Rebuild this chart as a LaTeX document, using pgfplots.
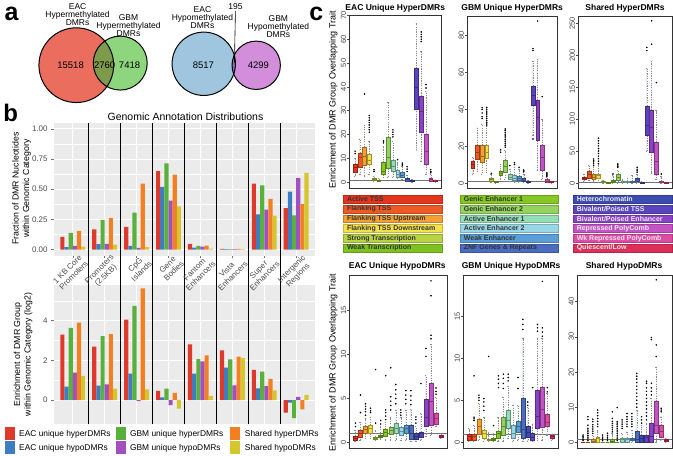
\documentclass[border=0pt]{standalone}
\usepackage{fontspec}
\setmainfont{Liberation Sans}
\usepackage{pgfplots}
\usepackage{pgfplotstable}
\pgfplotsset{compat=1.18}
\usepgfplotslibrary{statistics}

\newcommand{\fs}[1]{\fontsize{#1}{#1}\selectfont}

% panel b colours
\definecolor{cR}{HTML}{DD3A2B}
\definecolor{cB}{HTML}{3D7DC0}
\definecolor{cG}{HTML}{5AB03C}
\definecolor{cP}{HTML}{A24FC0}
\definecolor{cO}{HTML}{F47F22}
\definecolor{cY}{HTML}{D6C62E}
\definecolor{bgg}{HTML}{EBEBEB}
% chromatin states
\definecolor{s1}{HTML}{E5351F}
\definecolor{s2}{HTML}{EE5A26}
\definecolor{s3}{HTML}{F5A030}
\definecolor{s4}{HTML}{F4E14A}
\definecolor{s5}{HTML}{B9D443}
\definecolor{s6}{HTML}{7EC21F}
\definecolor{s7}{HTML}{86C823}
\definecolor{s8}{HTML}{93D35E}
\definecolor{s9}{HTML}{93DFB5}
\definecolor{s10}{HTML}{98D8E6}
\definecolor{s11}{HTML}{5A9FD8}
\definecolor{s12}{HTML}{4C6CC2}
\definecolor{s13}{HTML}{3C4CB0}
\definecolor{s14}{HTML}{5B45BE}
\definecolor{s15}{HTML}{8A43C6}
\definecolor{s16}{HTML}{C454C6}
\definecolor{s17}{HTML}{E04BA6}
\definecolor{s18}{HTML}{DE2F5A}
% venn
\definecolor{vR}{HTML}{EA6D5E}
\definecolor{vG}{HTML}{8ED67E}
\definecolor{vO}{HTML}{7E9A4C}
\definecolor{vB}{HTML}{9FC6DE}
\definecolor{vP}{HTML}{D28EDA}
\definecolor{vQ}{HTML}{8A6FB0}

\pgfplotstableread{
x  ehyper ehypo ghyper ghypo shyper shypo
1  0.105 0.020 0.138 0.030 0.155 0.025
2  0.168 0.044 0.245 0.047 0.260 0.040
3  0.187 0.030 0.305 0.013 0.545 0.020
4  0.650 0.518 0.713 0.405 0.620 0.358
5  0.044 0.017 0.030 0.025 0.033 0.008
6  0.005 0.003 0.003 0.004 0.005 0.003
7  0.545 0.292 0.532 0.330 0.419 0.281
8  0.344 0.480 0.284 0.592 0.377 0.634
}\fracdata

\pgfplotstableread{
x  ehyper ehypo ghyper ghypo shyper shypo
1  3.30  0.68  3.64  1.39  3.90  1.22
2  2.69  0.73  3.22  0.80  3.32  0.58
3  4.05  1.34  4.75 -0.05  5.63  0.54
4  0.47  0.14  0.58 -0.25  0.37 -0.42
5  2.81  1.34  2.07  1.95  2.25  0.22
6  2.51  1.64  2.05  0.75  2.19  2.12
7  1.53  0.59  1.44  0.71  1.07  0.49
8 -0.63 -0.12 -0.90  0.17 -0.46  0.27
}\enrdata

\pgfplotsset{
  /pgf/number format/assume math mode=true,
  gg/.style={scale only axis, anchor=south west, width=262pt,
    xmin=0.4, xmax=8.6, xtick={1,...,8},
    ybar=0pt, bar width=0.13,
    axis background/.style={fill=bgg},
    axis line style={draw=none},
    ymajorgrids, yminorgrids, xmajorgrids,
    major grid style={white, line width=0.8pt},
    minor grid style={white, line width=0.4pt},
    tick align=outside, major tick length=2.5pt, minor tick length=0pt,
    tick style={black!55, line width=0.5pt},
    xtick pos=left, ytick pos=left,
    tick label style={font=\fs{8}, text=black!70}},
  bp/.style={scale only axis, anchor=south west,
    xmin=-0.22, xmax=19.22, xtick=\empty,
    ytick pos=left, tick align=outside, major tick length=2pt,
    tick style={black!70, line width=0.5pt},
    axis line style={black!80, line width=0.6pt},
    yticklabel style={rotate=90, anchor=south, inner sep=1pt, font=\fs{7.5}, text=black!75},
    boxplot/draw direction=y,
    boxplot/box extend=0.8, boxplot/whisker extend=0.4,
    boxplot/every whisker/.style={dash pattern=on 1.2pt off 1.2pt, draw=black!45, line width=0.45pt},
    boxplot/every median/.style={line width=1pt},
    every axis plot/.append style={mark=*, mark size=0.55pt,
      mark options={fill=black, draw=black, solid}, line width=0.4pt}}
}

% one prepared box: position, colour, lw, lq, median, uq, uw, outliers
\newcommand{\bx}[8]{\addplot[boxplot prepared={draw position=#1, lower whisker=#3,
  lower quartile=#4, median=#5, upper quartile=#6, upper whisker=#7},
  fill=#2, draw=#2!65!black] coordinates {#8};}
\newcommand{\refline}{\draw[black!55, line width=0.5pt] (axis cs:-0.22,1) -- (axis cs:19.22,1);}

\begin{document}
\begin{tikzpicture}

%% ---------- a: venn diagrams ----------
\begin{axis}[hide axis, x=1pt, y=1pt, xmin=0, xmax=300, ymin=-105, ymax=0,
  at={(0pt,0pt)}, anchor=north west, clip=false]
  \fill[vR] (axis cs:75.7,-62.4) circle[radius=37.4];
  \fill[vG] (axis cs:119.7,-60.3) circle[radius=27];
  \begin{scope}
    \clip (axis cs:75.7,-62.4) circle[radius=37.4];
    \fill[vO] (axis cs:119.7,-60.3) circle[radius=27];
  \end{scope}
  \draw[line width=1pt] (axis cs:75.7,-62.4) circle[radius=37.4];
  \draw[line width=1pt] (axis cs:119.7,-60.3) circle[radius=27];
  \fill[vB] (axis cs:203.3,-61) circle[radius=31.7];
  \fill[vP] (axis cs:255.8,-62.5) circle[radius=24.2];
  \begin{scope}
    \clip (axis cs:203.3,-61) circle[radius=31.7];
    \fill[vQ] (axis cs:255.8,-62.5) circle[radius=24.2];
  \end{scope}
  \draw[line width=1pt] (axis cs:203.3,-61) circle[radius=31.7];
  \draw[line width=1pt] (axis cs:255.8,-62.5) circle[radius=24.2];
  \draw[line width=0.6pt] (axis cs:235,-8) -- (axis cs:234,-60);
\end{axis}

%% ---------- b: bottom bars (drawn first so labels above stay visible) ----------
\begin{axis}[gg, height=140pt, at={(53pt,-422pt)}, clip=false,
  ymin=-1.22, ymax=5.82, ytick={0,2,4}, minor ytick={1,3,5},
  xticklabels={}, xtick style={draw=none}]
  \addplot[fill=cR, draw=none] table[x=x, y=ehyper] {\enrdata};
  \addplot[fill=cB, draw=none] table[x=x, y=ehypo] {\enrdata};
  \addplot[fill=cG, draw=none] table[x=x, y=ghyper] {\enrdata};
  \addplot[fill=cP, draw=none] table[x=x, y=ghypo] {\enrdata};
  \addplot[fill=cO, draw=none] table[x=x, y=shyper] {\enrdata};
  \addplot[fill=cY, draw=none] table[x=x, y=shypo] {\enrdata};
  \pgfplotsinvokeforeach{1.5,2.5,3.5,4.5,5.5,6.5,7.5}{
    \draw[line width=0.9pt] (axis cs:#1,-1.22) -- (axis cs:#1,5.82) -- ++(0pt,29pt);}
\end{axis}

%% ---------- b: top bars ----------
\begin{axis}[gg, height=133pt, at={(53pt,-253pt)},
  ymin=-0.05, ymax=1.05,
  ytick={0,0.25,0.5,0.75,1}, yticklabels={0.00,0.25,0.50,0.75,1.00},
  minor ytick={0.125,0.375,0.625,0.875},
  xticklabels={{1 KB Core\\Promoters},{Promoters\\(2.5KB)},{CpG\\Islands},{Gene\\Bodies},
    {Fantom\\Enhancers},{Vista\\Enhancers},{Super\\Enhancers},{Intergenic\\Regions}},
  xticklabel style={rotate=45, anchor=north east, xshift=8pt, align=center, inner sep=1pt,
    font=\fontsize{8}{8.8}\selectfont}]
  \addplot[fill=cR, draw=none] table[x=x, y=ehyper] {\fracdata};
  \addplot[fill=cB, draw=none] table[x=x, y=ehypo] {\fracdata};
  \addplot[fill=cG, draw=none] table[x=x, y=ghyper] {\fracdata};
  \addplot[fill=cP, draw=none] table[x=x, y=ghypo] {\fracdata};
  \addplot[fill=cO, draw=none] table[x=x, y=shyper] {\fracdata};
  \addplot[fill=cY, draw=none] table[x=x, y=shypo] {\fracdata};
  \pgfplotsinvokeforeach{1.5,2.5,3.5,4.5,5.5,6.5,7.5}{
    \draw[line width=0.9pt] (axis cs:#1,-0.05) -- (axis cs:#1,1.05);}
\end{axis}

%% ---------- c: box plots ----------
\begin{axis}[bp, width=92pt, height=174pt, at={(349pt,-186pt)},
  ymin=-2.7, ymax=70.2, ytick={0,10,...,70}]
  \refline
  \bx{1}{s1}{2.6}{4.3}{6.1}{7.5}{10}{(0,12)(0,13)}
  \bx{2}{s2}{3.3}{6.5}{10.3}{12.3}{18.2}{}
  \bx{3}{s3}{2.6}{7.2}{10.7}{14.7}{24}{(0,37)}
  \bx{4}{s4}{3.3}{7.5}{9.3}{11.7}{17}{(0,21)(0,22)(0,23)(0,24)(0,25)(0,26)(0,27)(0,28)}
  \bx{5}{s5}{0.4}{0.8}{1.1}{1.5}{2.5}{(0,4.5)(0,5.2)}
  \bx{6}{s6}{0.3}{0.6}{0.8}{1.0}{1.5}{}
  \bx{7}{s7}{1.9}{3.3}{4.7}{8.2}{15}{(0,16.5)(0,17.3)}
  \bx{8}{s8}{1.9}{5.8}{10.3}{18.9}{33.6}{}
  \bx{9}{s9}{2.3}{4.5}{6.4}{9.1}{17}{(0,19)(0,20)(0,21)(0,22)}
  \bx{10}{s10}{1}{1.9}{3.3}{5.0}{8.2}{(0,9.5)}
  \bx{11}{s11}{1.2}{2.3}{3.0}{4.0}{6.5}{(0,7)(0,7.5)(0,8)}
  \bx{12}{s12}{0.3}{0.5}{1.0}{1.5}{3}{(0,4.5)(0,5.5)(0,6.5)}
  \bx{13}{s13}{0.1}{0.3}{0.5}{0.8}{1.2}{}
  \bx{14}{s14}{13.7}{30.8}{39.7}{47.7}{66.5}{}
  \bx{15}{s15}{9}{21.1}{29.7}{36.2}{55}{(0,59)(0,60)(0,61)(0,62)(0,63)}
  \bx{16}{s16}{3.3}{7.5}{13}{20}{38}{(0,39.5)(0,41)}
  \bx{17}{s17}{0.3}{0.5}{1}{1.5}{3.5}{(0,4)(0,4.5)(0,5.3)}
  \bx{18}{s18}{0.1}{0.3}{0.5}{0.7}{1.0}{}
\end{axis}

\begin{axis}[bp, width=90pt, height=173pt, at={(467pt,-186pt)},
  ymin=-3.1, ymax=90.8, ytick={0,20,...,80}]
  \refline
  \bx{1}{s1}{4.9}{8.1}{10}{11.8}{14}{}
  \bx{2}{s2}{6.3}{13}{16.3}{20.3}{30}{}
  \bx{3}{s3}{5}{11.2}{14.5}{20.3}{32}{(0,35)(0,36)(0,38)(0,40)(0,41)}
  \bx{4}{s4}{5.8}{13.6}{16.3}{20.3}{30}{(0,31)(0,32)(0,33)(0,34)(0,35)(0,36)(0,37)(0,38)(0,39)(0,40)(0,41)}
  \bx{5}{s5}{0.5}{1.2}{2}{2.8}{4.5}{(0,5.2)}
  \bx{6}{s6}{0.1}{0.3}{0.5}{0.8}{1.2}{}
  \bx{7}{s7}{2.2}{4}{4.9}{6.2}{10.3}{(0,16.7)(0,18)}
  \bx{8}{s8}{2}{5.8}{9}{12.1}{17.6}{(0,19.5)(0,20.5)(0,21.5)(0,22.5)(0,23.5)(0,24.5)(0,25.5)(0,26.5)(0,27.5)(0,28.5)(0,29.3)}
  \bx{9}{s9}{0.9}{2}{3.1}{4.5}{7.6}{(0,9.4)}
  \bx{10}{s10}{0.6}{1.6}{2.5}{4.2}{8.5}{(0,10)(0,11)}
  \bx{11}{s11}{0.6}{1.6}{2.5}{3.6}{7.6}{(0,8.5)}
  \bx{12}{s12}{0.2}{0.9}{1.6}{2.7}{4.9}{(0,6)(0,6.5)(0,7)}
  \bx{13}{s13}{0.1}{0.3}{0.5}{1.0}{1.5}{}
  \bx{14}{s14}{25.7}{42}{47.4}{52.8}{66}{(0,72)(0,73)(0,23.9)}
  \bx{15}{s15}{7}{23}{35.7}{45}{67}{(0,88)}
  \bx{16}{s16}{2.2}{6.7}{14}{20.3}{34.8}{(0,46.9)}
  \bx{17}{s17}{0.2}{0.5}{1}{2}{3}{(0,3.5)(0,4)(0,4.5)(0,5)(0,5.5)}
  \bx{18}{s18}{0.1}{0.3}{0.5}{0.7}{1}{}
\end{axis}

\begin{axis}[bp, width=94pt, height=173pt, at={(578pt,-186pt)},
  ymin=-8.9, ymax=261.4, ytick={0,50,...,250}]
  \refline
  \bx{1}{s1}{2.6}{5.2}{6.3}{8.9}{14}{}
  \bx{2}{s2}{3.6}{7.8}{13}{18.2}{27}{}
  \bx{3}{s3}{2.6}{5.2}{8.9}{13}{24}{(0,27)(0,30)(0,33)(0,35)(0,37.5)}
  \bx{4}{s4}{3.6}{7.3}{11.5}{14}{27}{(0,30)(0,34)(0,38)(0,42)(0,46)(0,50)(0,54)(0,58)(0,62)(0,66)(0,70)}
  \bx{5}{s5}{0}{0.5}{1}{2}{5}{}
  \bx{6}{s6}{0}{0}{0}{0.5}{1}{}
  \bx{7}{s7}{0}{1}{2.6}{4.7}{11.5}{(0,14)}
  \bx{8}{s8}{0}{3.6}{7.8}{13}{19.3}{(0,24.5)(0,26)(0,28)(0,29.7)}
  \bx{9}{s9}{0}{0.5}{1}{2}{6}{}
  \bx{10}{s10}{0}{0.5}{1}{2}{8}{}
  \bx{11}{s11}{0}{0.5}{1}{2}{12}{}
  \bx{12}{s12}{0}{2.6}{5.2}{7.8}{14}{(0,16.7)(0,19)(0,21.5)(0,24.5)}
  \bx{13}{s13}{0}{0}{0.5}{1}{2}{}
  \bx{14}{s14}{50}{74}{89.6}{120.8}{179.7}{(0,207)(0,212)}
  \bx{15}{s15}{15.1}{48}{87}{114}{191}{(0,217)(0,253.6)}
  \bx{16}{s16}{6}{13}{33}{63.5}{113}{(0,157)}
  \bx{17}{s17}{0}{0.5}{1}{2}{10}{(0,14)}
  \bx{18}{s18}{0}{0}{0.5}{1}{1.5}{}
\end{axis}

\begin{axis}[bp, width=98pt, height=173pt, at={(349pt,-446pt)},
  ymin=-0.68, ymax=19.0, ytick={0,5,10,15}]
  \refline
  \bx{1}{s1}{0.15}{0.26}{0.5}{0.75}{1.4}{(0,1.8)(0,2.2)}
  \bx{2}{s2}{0.3}{0.64}{1.0}{1.4}{2.3}{(0,3.4)(0,5.4)}
  \bx{3}{s3}{0.5}{1.0}{1.5}{1.85}{2.7}{(0,3.1)(0,3.5)(0,3.8)(0,4.1)(0,4.4)}
  \bx{4}{s4}{0.5}{1.0}{1.6}{1.96}{2.9}{(0,3.4)(0,3.6)(0,3.9)}
  \bx{5}{s5}{0.2}{0.34}{0.45}{0.64}{1.4}{(0,2.2)(0,8.3)}
  \bx{6}{s6}{0.4}{0.57}{0.72}{0.83}{1.8}{(0,2.1)(0,2.5)}
  \bx{7}{s7}{0.3}{0.72}{1.1}{1.47}{2.3}{(0,2.6)(0,3.0)(0,3.4)(0,3.7)(0,7.6)}
  \bx{8}{s8}{0.3}{0.94}{1.4}{1.77}{2.9}{(0,3.7)(0,4.2)(0,4.7)(0,5.2)(0,8.5)}
  \bx{9}{s9}{0.3}{1.0}{1.6}{2.2}{3.7}{(0,4.4)(0,5.0)(0,5.5)(0,6.0)(0,6.6)}
  \bx{10}{s10}{0.2}{0.83}{1.3}{1.77}{2.9}{(0,3.1)(0,3.4)(0,3.7)}
  \bx{11}{s11}{0.3}{1.0}{1.6}{1.96}{3.7}{(0,4.4)(0,4.9)(0,5.4)(0,5.9)}
  \bx{12}{s12}{0.1}{0.4}{1.0}{1.96}{3.8}{(0,4.3)(0,4.8)(0,5.3)(0,5.9)}
  \bx{13}{s13}{0.1}{0.4}{0.64}{1.0}{1.8}{(0,2.2)(0,2.6)(0,2.9)}
  \bx{14}{s14}{0.3}{0.64}{1.0}{1.2}{3.3}{(0,6.7)}
  \bx{15}{s15}{0.72}{1.85}{2.8}{4.9}{7.6}{(0,9.8)(0,10.7)}
  \bx{16}{s16}{0.8}{2.0}{4.7}{6.7}{11.2}{(0,11.8)(0,12.2)(0,16.7)(0,18.4)}
  \bx{17}{s17}{1.8}{2.1}{2.7}{3.3}{5.2}{(0,5.5)(0,5.8)(0,6.2)}
  \bx{18}{s18}{0.5}{0.57}{0.72}{0.83}{1.0}{}
\end{axis}

\begin{axis}[bp, width=95pt, height=173pt, at={(463pt,-446pt)},
  ymin=-0.71, ymax=19.8, ytick={0,5,10,15}]
  \refline
  \bx{1}{s1}{0.1}{0.27}{0.67}{1.0}{1.65}{}
  \bx{2}{s2}{0.1}{0.27}{0.67}{1.0}{2.0}{(0,2.6)(0,2.8)(0,3.0)(0,7.9)}
  \bx{3}{s3}{0.3}{1.0}{1.9}{2.8}{4.6}{(0,5.0)(0,5.3)(0,5.6)}
  \bx{4}{s4}{0.2}{0.47}{1.0}{1.4}{3.0}{(0,3.8)(0,4.3)(0,4.8)(0,5.2)}
  \bx{5}{s5}{0.1}{0.24}{0.3}{0.4}{1.25}{(0,10.2)}
  \bx{6}{s6}{0.1}{0.27}{0.35}{0.47}{1.06}{(0,2)}
  \bx{7}{s7}{0.2}{0.55}{1.0}{1.33}{3.0}{(0,6.5)(0,7.0)(0,7.5)(0,7.9)}
  \bx{8}{s8}{0.2}{0.86}{1.84}{3.0}{5.4}{(0,6.4)(0,7.0)(0,7.6)(0,8.1)}
  \bx{9}{s9}{0.5}{1.65}{2.6}{3.8}{6.7}{(0,7.3)(0,7.7)(0,8.1)}
  \bx{10}{s10}{0.1}{0.55}{1.06}{2.0}{4.4}{}
  \bx{11}{s11}{0.3}{1.25}{1.84}{2.5}{4.4}{(0,6.4)(0,7.7)}
  \bx{12}{s12}{0.1}{0.47}{1.53}{5.25}{12.4}{(0,13.4)(0,14.0)(0,14.6)}
  \bx{13}{s13}{0.2}{0.67}{1.2}{1.96}{4.2}{(0,4.4)(0,4.8)}
  \bx{14}{s14}{0.1}{0.27}{0.6}{1.06}{2.2}{(0,6.5)}
  \bx{15}{s15}{0.3}{1.65}{3.1}{6.2}{12.4}{(0,13.2)(0,13.6)(0,14)}
  \bx{16}{s16}{0.3}{1.84}{3.9}{6.5}{12.4}{(0,12.6)(0,13.1)(0,13.6)(0,19.1)}
  \bx{17}{s17}{0.8}{1.9}{2.4}{3.4}{5.8}{(0,6.0)(0,6.5)}
  \bx{18}{s18}{0.3}{0.47}{0.67}{0.86}{1.0}{}
\end{axis}

\begin{axis}[bp, width=95pt, height=173pt, at={(577pt,-446pt)},
  ymin=-1.7, ymax=47.4, ytick={0,10,...,40}]
  \refline
  \bx{1}{s1}{0}{0}{0}{0}{0}{(0,0.5)(0,0.9)(0,1.3)(0,1.7)(0,2.1)}
  \bx{2}{s2}{0}{0}{0}{0}{0}{(0,0.5)(0,1)(0,1.5)(0,2)(0,2.5)(0,3)(0,3.5)(0,4)(0,4.9)(0,6.5)(0,7.3)}
  \bx{3}{s3}{0}{0}{0.2}{0.85}{2.1}{(0,2.6)(0,3.2)(0,3.8)(0,4.4)(0,5)(0,5.9)(0,6.6)}
  \bx{4}{s4}{0}{0}{1.1}{1.4}{3.5}{(0,4.5)(0,5.2)(0,6)(0,6.8)(0,7.6)(0,8.4)(0,9.2)}
  \bx{5}{s5}{0}{0}{0}{0}{0}{(0,0.5)(0,1)(0,1.5)(0,2.1)}
  \bx{6}{s6}{0}{0}{0}{0}{0}{(0,0.5)(0,1)(0,1.5)(0,2)(0,2.6)}
  \bx{7}{s7}{0}{0}{0.4}{1.0}{2.5}{(0,3)(0,3.6)(0,4.2)(0,4.8)(0,5.4)(0,6)(0,6.8)(0,8.7)}
  \bx{8}{s8}{0}{0}{0}{0}{0}{(0,0.5)(0,1)(0,1.5)(0,2)(0,2.5)(0,3)(0,3.5)(0,4)(0,4.5)(0,5)(0,5.5)(0,5.9)(0,9.9)}
  \bx{9}{s9}{0}{0}{0.7}{1.3}{2.6}{(0,4)(0,4.6)(0,5.2)(0,5.8)(0,6.4)}
  \bx{10}{s10}{0}{0}{0.85}{1.3}{3}{(0,4.5)(0,5.2)(0,5.9)(0,6.6)(0,7.3)(0,8.2)}
  \bx{11}{s11}{0}{0.5}{0.8}{1.1}{3.5}{(0,4.5)(0,5.2)(0,5.9)(0,6.6)(0,7.3)(0,8.2)}
  \bx{12}{s12}{0}{0}{0.95}{3.3}{9.2}{(0,10)(0,11)(0,12)(0,13)(0,14)(0,15)(0,16)(0,17)(0,18)(0,18.8)(0,19.6)}
  \bx{13}{s13}{0}{0}{1.1}{2.1}{4.9}{(0,5.5)(0,6.4)(0,7.3)}
  \bx{14}{s14}{0}{0}{1.4}{2.1}{5.4}{(0,6.4)(0,7.5)(0,8.5)(0,9.5)(0,10.5)(0,11.5)(0,12.5)(0,13.5)(0,14.5)(0,15.5)(0,16.8)(0,17.4)}
  \bx{15}{s15}{0}{0}{1.6}{5.4}{12.5}{(0,13.5)(0,14.5)(0,15.5)(0,16.8)(0,29.2)(0,29.8)}
  \bx{16}{s16}{0}{2.6}{4.9}{11.6}{21.5}{(0,24.4)(0,27.7)(0,46.2)}
  \bx{17}{s17}{0.66}{1.6}{3.0}{4.9}{7.3}{(0,8.7)(0,9.2)(0,9.7)}
  \bx{18}{s18}{0.1}{0.28}{0.57}{0.85}{1.1}{}
\end{axis}

%% ---------- text, legends (pixel coordinates) ----------
\begin{scope}[x=1pt, y=-1pt]
  \path (0,0) rectangle (673,452);
  % panel letters
  \node[font=\bfseries\fs{25}] at (11,11) {a};
  \node[font=\bfseries\fs{24}] at (10,110) {b};
  \node[font=\bfseries\fs{25}] at (316,11) {c};
  % venn labels
  \begin{scope}[every node/.style={align=center, font=\fontsize{8.5}{8.2}\selectfont}]
    \node at (77,12) {EAC\\Hypermethylated\\DMRs};
    \node at (128,23) {GBM\\Hypermethylated\\DMRs};
    \node at (202,15) {EAC\\Hypomethylated\\DMRs};
    \node at (278,24) {GBM\\Hypomethylated\\DMRs};
  \end{scope}
  \begin{scope}[every node/.style={font=\fs{9.5}}]
    \node at (70,62) {15518};
    \node at (104,62) {2760};
    \node at (129,62) {7418};
    \node at (203,62) {8517};
    \node at (258,62) {4299};
    \node[font=\fs{8.5}] at (235,3.5) {195};
  \end{scope}
  % panel b titles
  \node[font=\fs{10.5}] at (185,114) {Genomic Annotation Distributions};
  \node[rotate=90, align=center, font=\fontsize{8.8}{10.5}\selectfont] at (21,186)
    {Fraction of DMR Nucleotides\\within Genomic Category};
  \node[rotate=90, align=center, font=\fontsize{8.8}{10.5}\selectfont] at (22.5,352)
    {Enrichment of DMR Group\\within Genomic Category (log2)};
  % panel b legend
  \begin{scope}[every node/.style={anchor=west, font=\fs{8.4}}]
    \fill[cR] (4,425) rectangle (14,438);   \node at (15,431.5) {EAC unique hyperDMRs};
    \fill[cB] (4,439) rectangle (14,452);   \node at (15,445.5) {EAC unique hypoDMRs};
    \fill[cG] (115,425) rectangle (125,438); \node at (126,431.5) {GBM unique hyperDMRs};
    \fill[cP] (115,439) rectangle (125,452); \node at (126,445.5) {GBM unique hypoDMRs};
    \fill[cO] (230,425) rectangle (240,438); \node at (241,431.5) {Shared hyperDMRs};
    \fill[cY] (230,439) rectangle (240,452); \node at (241,445.5) {Shared hypoDMRs};
  \end{scope}
  % panel c titles
  \begin{scope}[every node/.style={font=\bfseries\fs{8.5}}]
    \node at (395,5.5) {EAC Unique HyperDMRs};
    \node at (512,5.5) {GBM Unique HyperDMRs};
    \node at (625,5.5) {Shared HyperDMRs};
    \node at (397,264) {EAC Unique HypoDMRs};
    \node at (511,264) {GBM Unique HypoDMRs};
    \node at (624,264) {Shared HypoDMRs};
  \end{scope}
  \node[rotate=90, font=\fs{9}] at (333,97) {Enrichment of DMR Group Overlapping Trait};
  \node[rotate=90, font=\fs{9}] at (333,360) {Enrichment of DMR Group Overlapping Trait};
  % chromatin state legend
  \foreach \c/\t [count=\i] in {s1/{Active TSS}, s2/{Flanking TSS}, s3/{Flanking TSS Upstream},
      s4/{Flanking TSS Downstream}, s5/{Strong Transcription}, s6/{Weak Transcription}}
    {\fill[\c, draw=\c!80!black, line width=0.3pt] (343,{192.5+(\i-1)*9.8}) rectangle (442,{200.3+(\i-1)*9.8});
     \node[anchor=west, font=\bfseries\fs{7}, text=black!80, inner sep=0pt] at (346.5,{196.4+(\i-1)*9.8}) {\t};}
  \foreach \c/\t [count=\i] in {s7/{Genic Enhancer 1}, s8/{Genic Enhancer 2}, s9/{Active Enhancer 1},
      s10/{Active Enhancer 2}, s11/{Weak Enhancer}, s12/{ZNF Genes \& Repeats}}
    {\fill[\c, draw=\c!80!black, line width=0.3pt] (460,{192.5+(\i-1)*9.8}) rectangle (558,{200.3+(\i-1)*9.8});
     \node[anchor=west, font=\bfseries\fs{7}, text=black!80, inner sep=0pt] at (463.5,{196.4+(\i-1)*9.8}) {\t};}
  \foreach \c/\t [count=\i] in {s13/{Heterochromatin}, s14/{Bivalent/Poised TSS}, s15/{Bivalent/Poised Enhancer},
      s16/{Repressed PolyComb}, s17/{Wk Repressed PolyComb}, s18/{Quiescent/Low}}
    {\fill[\c, draw=\c!80!black, line width=0.3pt] (573,{192.5+(\i-1)*9.8}) rectangle (672,{200.3+(\i-1)*9.8});
     \node[anchor=west, font=\bfseries\fs{7}, text=white!92!black, inner sep=0pt] at (576.5,{196.4+(\i-1)*9.8}) {\t};}
\end{scope}
\end{tikzpicture}
\end{document}
